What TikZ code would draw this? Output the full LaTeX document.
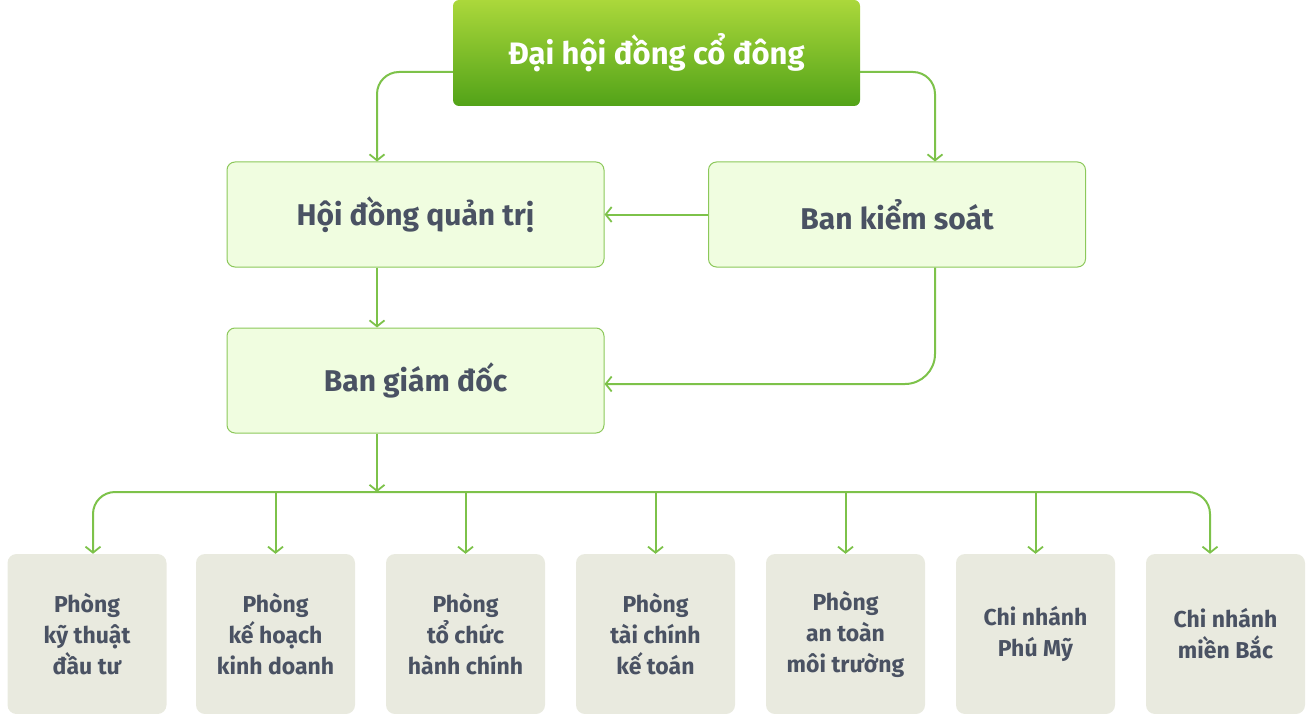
\documentclass[tikz,border=0pt]{standalone}
\usepackage{fontspec}
\setmainfont{Fira Sans}
\usetikzlibrary{arrows.meta}
\definecolor{lnc}{HTML}{7DC24A}
\definecolor{bdc}{HTML}{8CC85A}
\definecolor{lfill}{HTML}{F0FDE0}
\definecolor{gfill}{HTML}{E9EADF}
\definecolor{txt}{HTML}{4A5263}
\definecolor{gtop}{HTML}{ABD83B}
\definecolor{gbot}{HTML}{52A318}
\begin{document}
\begin{tikzpicture}[x=1pt,y=-1pt,
  topbox/.style={top color=gtop,bottom color=gbot,rounded corners=6pt,minimum width=407pt,minimum height=106pt,inner sep=0pt,text=white,font=\fontsize{31}{36}\selectfont\bfseries},
  midbox/.style={draw=bdc,line width=1pt,fill=lfill,rounded corners=8pt,minimum width=377pt,minimum height=105pt,inner sep=0pt,text=txt,font=\fontsize{30}{34}\selectfont\bfseries},
  lowbox/.style={fill=gfill,rounded corners=9pt,minimum width=159pt,minimum height=160pt,inner sep=0pt,text=txt,align=center,font=\fontsize{23}{31}\selectfont\bfseries},
  conn/.style={draw=lnc,line width=2pt,-{Straight Barb[length=6pt,width=15pt,line width=1.8pt]}},
  bus/.style={draw=lnc,line width=2pt,rounded corners=22pt}
]
\useasboundingbox (0,0) rectangle (1311,714);
\node[topbox] (top) at (656.5,53) {Đại hội đồng cổ đông};
\node[midbox] (hdqt) at (415.5,214.5) {Hội đồng quản trị};
\node[midbox] (bks) at (897,214.5) {Ban kiểm soát};
\node[midbox] (bgd) at (415.5,380.5) {Ban giám đốc};
\node[lowbox] (b1) at (87,634) {Phòng\\kỹ thuật\\đầu tư};
\node[lowbox] (b2) at (275.5,634) {Phòng\\kế hoạch\\kinh doanh};
\node[lowbox] (b3) at (465.5,634) {Phòng\\tổ chức\\hành chính};
\node[lowbox] (b4) at (655.5,634) {Phòng\\tài chính\\kế toán};
\node[lowbox] (b5) at (845.5,634) {Phòng\\an toàn\\môi trường};
\node[lowbox] (b6) at (1035.5,634) {Chi nhánh\\Phú Mỹ};
\node[lowbox] (b7) at (1225.5,634) {Chi nhánh\\miền Bắc};
\coordinate (bus) at (377,492);
% top connectors
\draw[conn,rounded corners=22pt] ([yshift=-19pt]top.west) -| ([xshift=-38.5pt]hdqt.north);
\draw[conn,rounded corners=22pt] ([yshift=-19pt]top.east) -| ([xshift=38pt]bks.north);
\draw[conn] (bks.west) -- (hdqt.east);
\draw[conn] ([xshift=-38.5pt]hdqt.south) -- ([xshift=-38.5pt]bgd.north);
\draw[conn,rounded corners=30pt] ([xshift=38pt]bks.south) |- ([yshift=-3.5pt]bgd.east);
\draw[conn] ([xshift=-38.5pt]bgd.south) -- (bus);
\draw[bus,{Straight Barb[length=6pt,width=15pt,line width=1.8pt]}-{Straight Barb[length=6pt,width=15pt,line width=1.8pt]}] ([xshift=6pt]b1.north) |- (bus) -| ([xshift=-15.5pt]b7.north);
\foreach \b in {b2,b3,b4,b5,b6}{
  \draw[conn] (\b.north |- bus) -- (\b.north);
}
\end{tikzpicture}
\end{document}
